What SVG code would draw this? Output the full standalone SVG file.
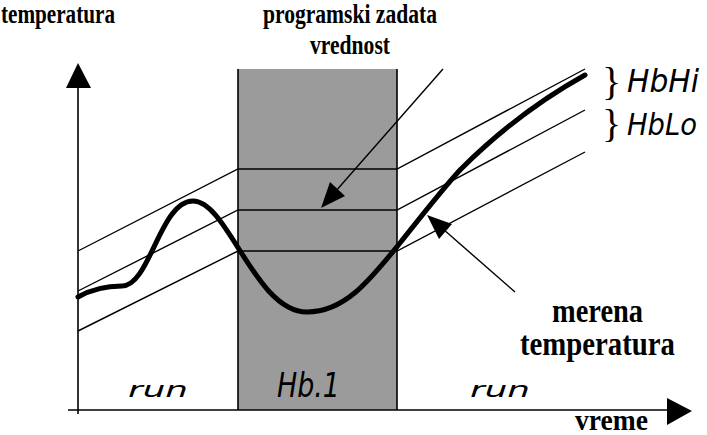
<svg xmlns="http://www.w3.org/2000/svg" width="707" height="435" viewBox="0 0 707 435">
<style>
.lbl{font-family:"Liberation Serif","Times New Roman",serif;font-weight:bold;fill:#000}
.seg{font-family:"DejaVu Sans","Liberation Sans",sans-serif;font-style:italic;font-weight:200;fill:#000}
.thin{fill:none;stroke:#000;stroke-width:1.4}
.brace{font-family:"Liberation Serif",serif;fill:#000}
</style>
<rect width="707" height="435" fill="#fff"/>
<g id="hold-zone">
<rect x="238" y="69" width="159" height="341" fill="#9b9b9b"/>
<line x1="238" y1="69" x2="238" y2="410" stroke="#000" stroke-width="1.6"/>
<line x1="397" y1="69" x2="397" y2="410" stroke="#000" stroke-width="1.6"/>
</g>
<g id="axes">
<line x1="78" y1="414" x2="78" y2="86" stroke="#000" stroke-width="1.6"/>
<polygon points="78,63 66,88 91,88" fill="#000"/>
<line x1="68" y1="410" x2="670" y2="410" stroke="#000" stroke-width="1.6"/>
<polygon points="692,411 667,398 667,425" fill="#000"/>
</g>
<g id="bands">
<polyline class="thin" points="78,251 238,169 397,169 585,69"/>
<polyline class="thin" points="78,291 238,210 397,210 585,110"/>
<polyline class="thin" points="78,331 238,251 397,251 585,152"/>
</g>
<g id="measured-curve">
<path d="M78,297 C92,289 105,286 122,286 C150,286 160,201 193,201 C228,201 255,312 307,312 C345,312 370,280 400,243 C420,218 440,192 460,170 C500,130 540,100 585,75" fill="none" stroke="#000" stroke-width="5" stroke-linecap="round"/>
</g>
<g id="connectors">
<line x1="443" y1="69" x2="335" y2="192" stroke="#000" stroke-width="1.4"/>
<polygon points="321,208 330,182 345,196" fill="#000"/>
<line x1="515" y1="292" x2="443" y2="229" stroke="#000" stroke-width="1.4"/>
<polygon points="427,215 439,239 452,224" fill="#000"/>
</g>
<g id="labels">
<text class="lbl" x="1" y="23" font-size="27" textLength="114" lengthAdjust="spacingAndGlyphs">temperatura</text>
<text class="lbl" x="263" y="23" font-size="27" textLength="174" lengthAdjust="spacingAndGlyphs">programski zadata</text>
<text class="lbl" x="310" y="54" font-size="27" textLength="80" lengthAdjust="spacingAndGlyphs">vrednost</text>
<text class="lbl" x="552" y="322" font-size="33" textLength="91" lengthAdjust="spacingAndGlyphs">merena</text>
<text class="lbl" x="520" y="355" font-size="33" textLength="155" lengthAdjust="spacingAndGlyphs">temperatura</text>
<text class="lbl" x="575" y="430" font-size="30" textLength="73" lengthAdjust="spacingAndGlyphs">vreme</text>
</g>
<g id="brace-labels">
<text class="brace" x="602" y="95" font-size="40">}</text>
<text class="brace" x="602" y="137" font-size="40">}</text>
<text class="seg" x="627" y="92" font-size="32" textLength="72" lengthAdjust="spacingAndGlyphs">HbHi</text>
<text class="seg" x="627" y="135" font-size="31" textLength="70" lengthAdjust="spacingAndGlyphs">HbLo</text>
</g>
<g id="state-labels">
<text class="seg" x="128" y="397" font-size="22" textLength="60" lengthAdjust="spacingAndGlyphs">run</text>
<text class="seg" x="277" y="397" font-size="33" textLength="63" lengthAdjust="spacingAndGlyphs">Hb.1</text>
<text class="seg" x="470" y="397" font-size="22" textLength="60" lengthAdjust="spacingAndGlyphs">run</text>
</g>
</svg>
